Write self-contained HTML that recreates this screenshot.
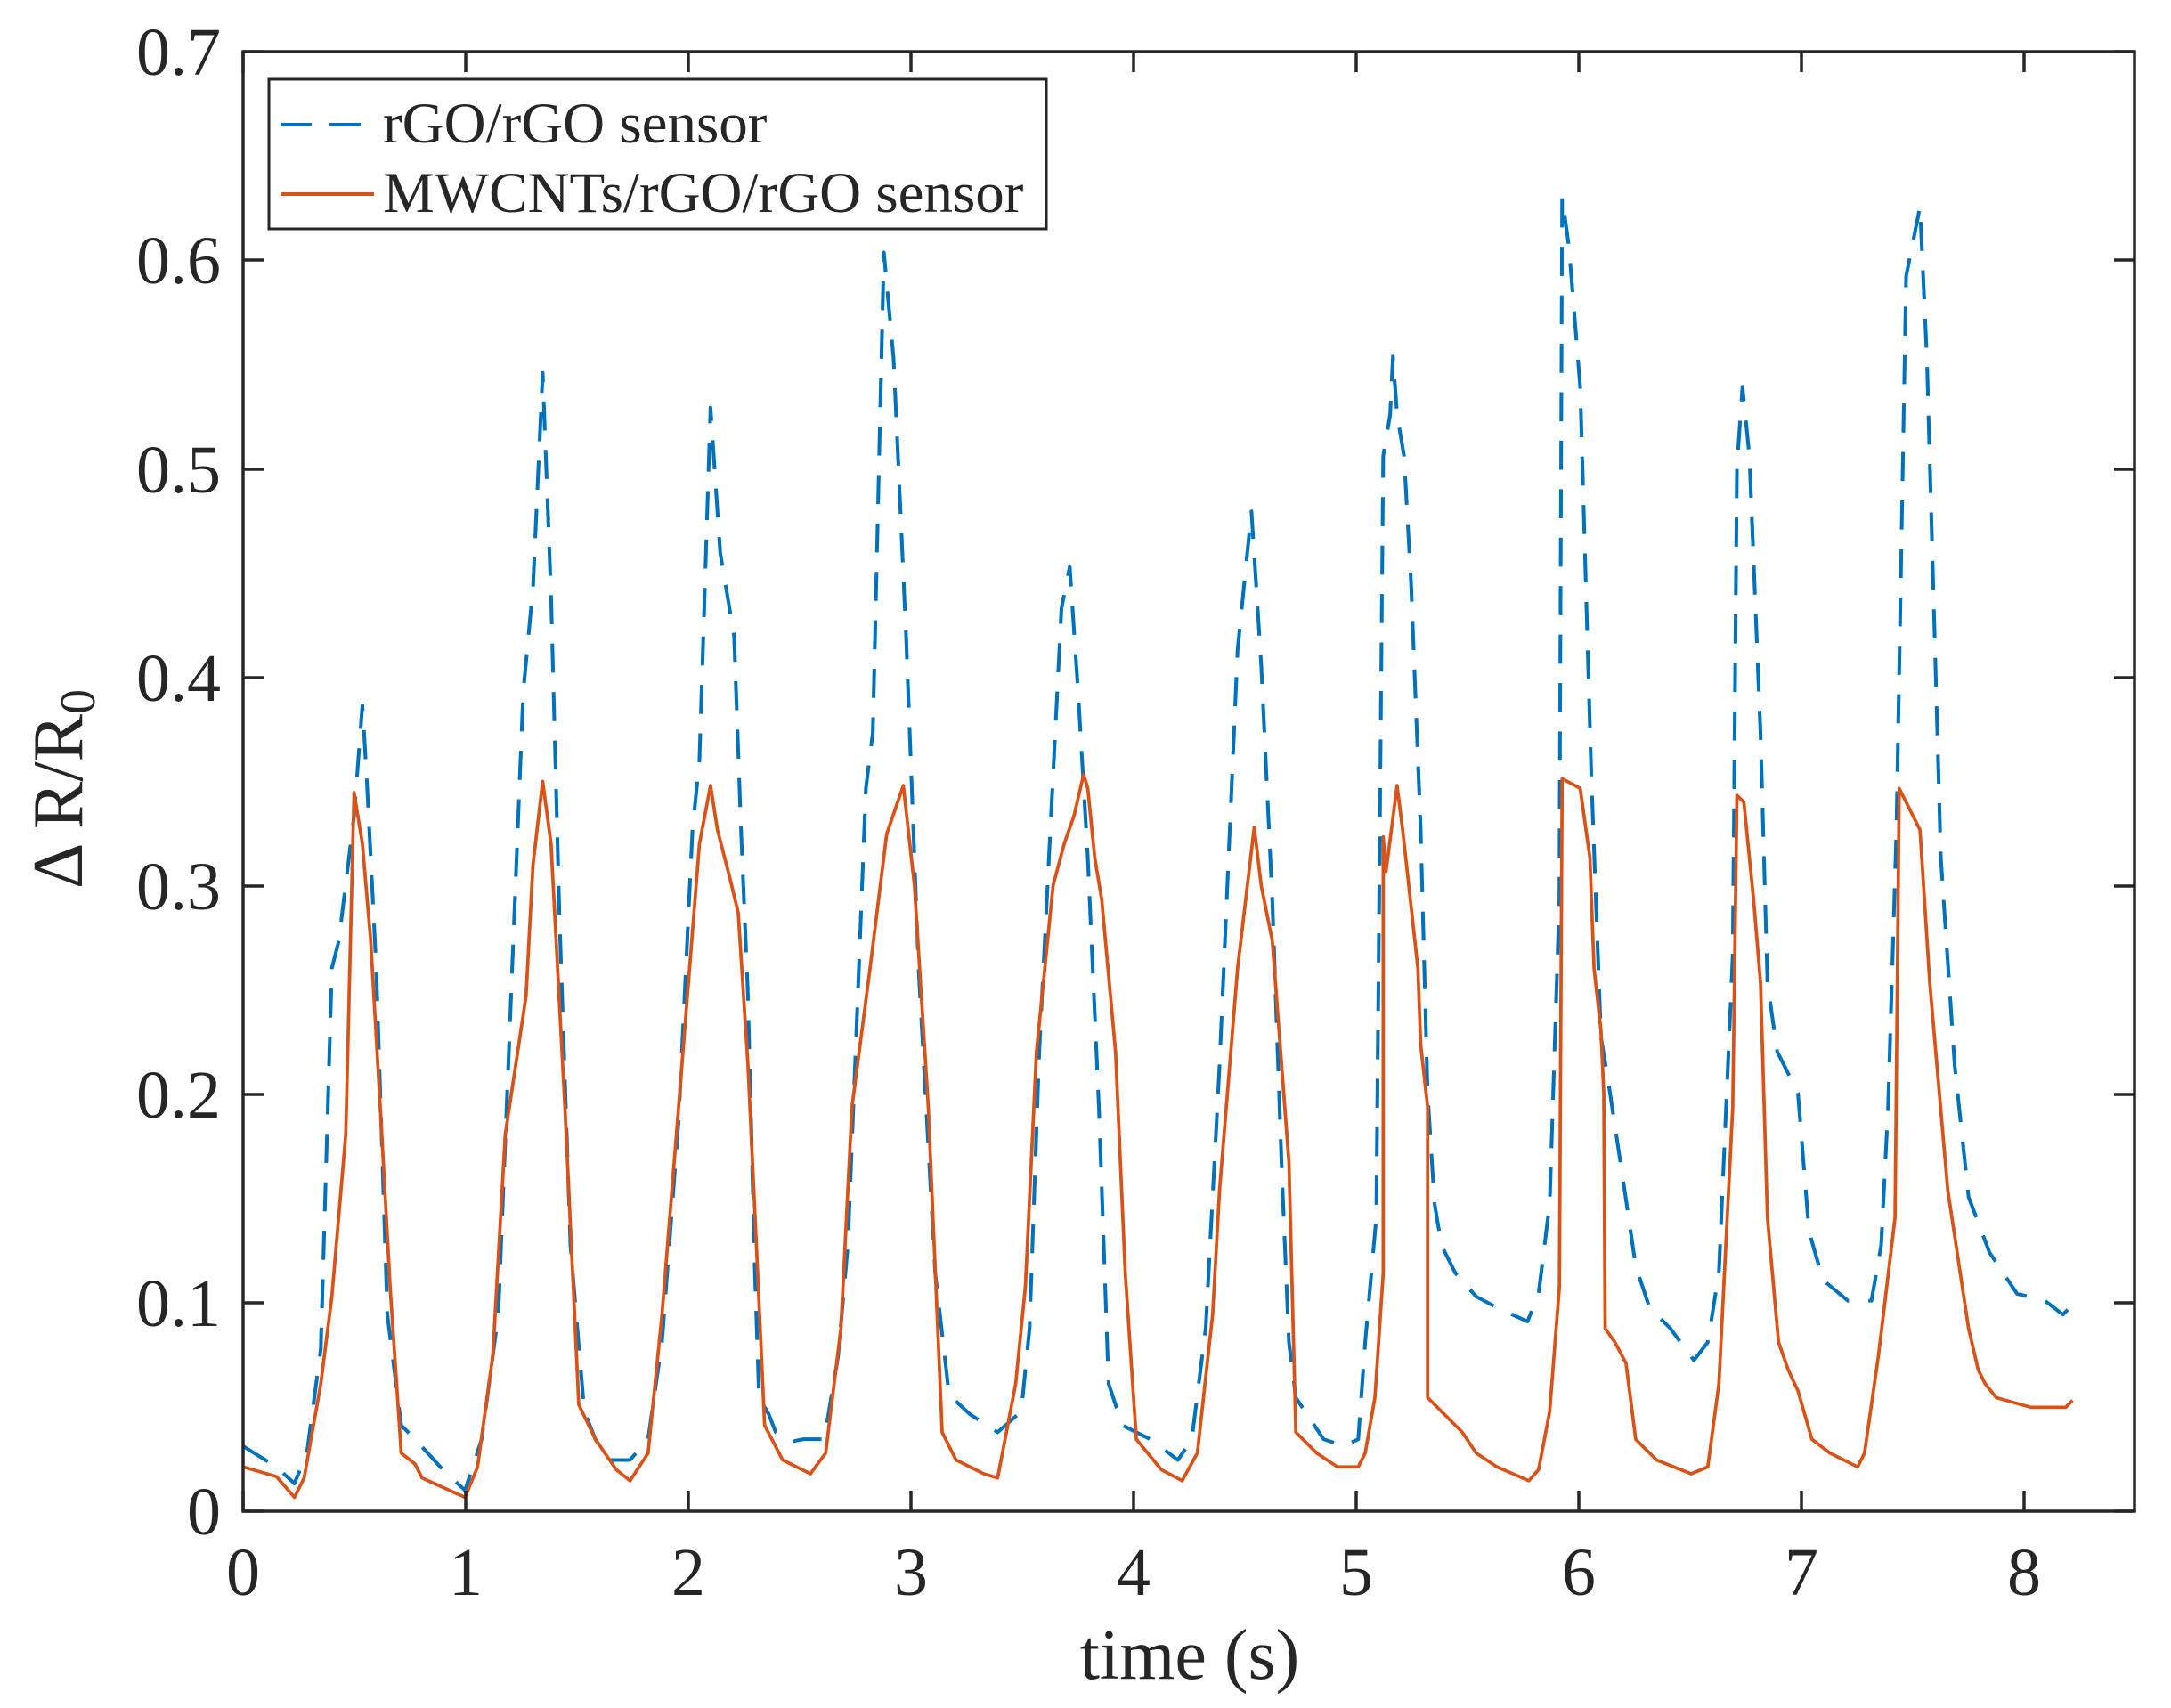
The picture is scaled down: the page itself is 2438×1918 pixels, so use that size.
<!DOCTYPE html>
<html><head><style>
html,body{margin:0;padding:0;background:#fff;}
svg{display:block;}
text{font-family:"Liberation Serif",serif;fill:#262626;}
</style></head><body>
<svg width="2438" height="1918" viewBox="0 0 2438 1918" xmlns="http://www.w3.org/2000/svg">
<rect width="2438" height="1918" fill="#fff"/>
<g transform="translate(273,1697) scale(1.5576,1.555) translate(-176,-1092)" fill="none" stroke-linejoin="round">
<polyline stroke="#0072BD" stroke-width="2.6" stroke-dasharray="21,14" points="176,1045 200,1060 213,1072 222,1050 232,975 240,700 245,680 256,590 262,510 265,560 272,700 280,950 290,1030 300,1040 320,1062 336,1077 348,1040 360,950 370,700 378,500 385,425 392,270 398,430 404,660 412,900 422,1020 430,1040 440,1055 455,1055 468,1040 478,970 490,810 500,600 505,550 513,295 520,400 530,460 535,600 540,720 545,920 548,1010 555,1022 560,1035 570,1042 580,1040 595,1040 605,980 612,900 618,750 625,570 630,530 638,183 645,260 654,460 663,700 675,920 685,1008 700,1022 720,1035 737,1020 743,960 750,760 760,560 766,440 772,410 778,500 785,620 793,800 800,1000 810,1030 830,1040 850,1055 860,1040 870,960 880,770 893,470 903,370 910,480 918,650 925,850 930,970 935,1010 945,1025 955,1040 970,1045 980,1040 985,970 993,880 998,330 1003,300 1005,258 1008,300 1013,330 1018,420 1025,600 1030,790 1035,870 1040,900 1050,920 1065,937 1080,945 1102,955 1110,935 1118,870 1125,650 1127,143 1132,180 1140,280 1148,560 1155,750 1160,780 1172,860 1180,915 1190,945 1205,960 1222,983 1232,970 1240,920 1250,690 1253,338 1257,280 1262,330 1270,530 1275,710 1282,760 1297,790 1305,890 1315,925 1333,940 1350,940 1357,900 1362,800 1368,600 1375,200 1385,150 1390,260 1400,620 1410,770 1420,865 1435,905 1455,935 1475,940 1488,950 1495,943"/>
<polyline stroke="#D95319" stroke-width="2.4" points="176,1060 200,1067 213,1082 220,1068 232,1000 240,937 250,820 256,573 262,610 268,680 276,820 282,930 290,1050 300,1058 305,1068 336,1082 345,1060 356,980 365,820 380,720 385,625 392,565 398,610 408,800 418,1015 430,1040 445,1062 455,1070 468,1050 478,950 490,800 505,610 513,568 518,600 527,635 533,660 540,770 547,920 552,1030 565,1055 585,1065 596,1050 607,960 615,800 628,700 640,603 652,568 660,640 670,800 680,1035 690,1055 710,1065 720,1068 733,1000 740,930 748,760 760,640 768,610 775,590 782,560 785,570 790,620 795,650 805,760 812,920 820,1040 838,1062 853,1070 864,1050 875,950 880,860 893,700 905,598 910,640 918,680 924,760 930,840 935,1035 950,1050 965,1060 980,1060 985,1050 992,1010 998,920 998,605 1000,630 1008,568 1012,600 1023,700 1025,755 1030,800 1030,1010 1045,1025 1055,1035 1065,1050 1080,1060 1103,1070 1110,1062 1118,1020 1125,930 1127,563 1140,570 1147,620 1150,700 1155,745 1157,790 1158,960 1165,970 1173,985 1180,1040 1195,1055 1220,1065 1232,1060 1240,1000 1250,800 1253,575 1258,580 1265,650 1270,710 1275,880 1283,970 1290,990 1297,1005 1307,1040 1320,1050 1340,1060 1345,1050 1355,980 1367,880 1370,570 1385,600 1392,710 1405,860 1420,960 1427,990 1432,1000 1440,1010 1465,1017 1490,1017 1495,1012"/>
</g>
<rect x="273" y="58" width="2124" height="1639" fill="none" stroke="#262626" stroke-width="3.5"/>
<g stroke="#262626" stroke-width="3.5">
<path d="M273 1697h23M273 1463h23M273 1229h23M273 995h23M273 761h23M273 527h23M273 292h23M273 58h23
M2397 1697h-23M2397 1463h-23M2397 1229h-23M2397 995h-23M2397 761h-23M2397 527h-23M2397 292h-23M2397 58h-23"/>
<path d="M273 1697v-23M523 1697v-23M773 1697v-23M1023 1697v-23M1273 1697v-23M1523 1697v-23M1773 1697v-23M2023 1697v-23M2273 1697v-23
M273 58v23M523 58v23M773 58v23M1023 58v23M1273 58v23M1523 58v23M1773 58v23M2023 58v23M2273 58v23"/>
</g>
<g font-size="76" text-anchor="end">
<text x="248" y="1723">0</text>
<text x="248" y="1489">0.1</text>
<text x="248" y="1255">0.2</text>
<text x="248" y="1021">0.3</text>
<text x="248" y="787">0.4</text>
<text x="248" y="553">0.5</text>
<text x="248" y="318">0.6</text>
<text x="248" y="84">0.7</text>
</g>
<g font-size="76" text-anchor="middle">
<text x="273" y="1791">0</text>
<text x="523" y="1791">1</text>
<text x="773" y="1791">2</text>
<text x="1023" y="1791">3</text>
<text x="1273" y="1791">4</text>
<text x="1523" y="1791">5</text>
<text x="1773" y="1791">6</text>
<text x="2023" y="1791">7</text>
<text x="2273" y="1791">8</text>
</g>
<text x="1336" y="1885" font-size="80" text-anchor="middle">time (s)</text>
<text transform="translate(92,998) rotate(-90)" font-size="80">Δ R/R<tspan font-size="56" dy="14">0</tspan></text>
<rect x="302" y="89" width="873" height="168" fill="#fff" stroke="#262626" stroke-width="3"/>
<line x1="315" y1="140" x2="407" y2="140" stroke="#0072BD" stroke-width="4" stroke-dasharray="35,20"/>
<line x1="315" y1="218" x2="420" y2="218" stroke="#D95319" stroke-width="4"/>
<text x="430" y="160" font-size="65">rGO/rGO sensor</text>
<text x="430" y="238" font-size="65">MWCNTs/rGO/rGO sensor</text>
</svg>
</body></html>
